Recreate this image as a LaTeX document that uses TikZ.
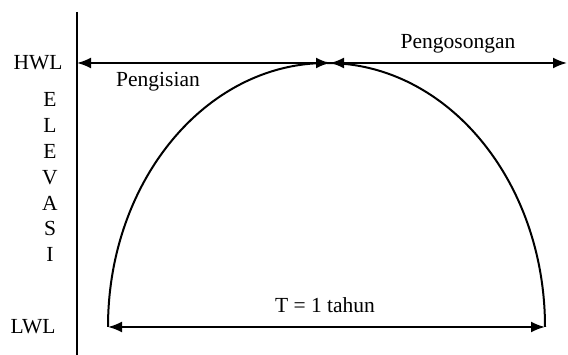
\documentclass[tikz,border=0pt]{standalone}
\usepackage{fontspec}
\setmainfont{Liberation Serif}
\usetikzlibrary{arrows.meta}
\begin{document}
\begin{tikzpicture}[
x=1pt,y=1pt,
line width=2pt,
every node/.style={font=\fontsize{21.5}{21.5}\selectfont,inner sep=0pt},
dimline/.style={{Latex[length=14pt,width=11pt]}-{Latex[length=14pt,width=11pt]}}
]
\useasboundingbox (0,0) rectangle (568,355);
% axis and levels
\coordinate (top) at (77,343);
\coordinate (bot) at (77,0);
\coordinate (hwl0) at (77,292);
\coordinate (peak) at (330,292);
\coordinate (hwl1) at (567,292);
\coordinate (lwl0) at (108,28);
\coordinate (lwl1) at (545,28);
\draw (top) -- (bot);
\node (hwl) at (38,292) {HWL};
\node (lwl) at (33,28) {LWL};
\foreach \ch [count=\i] in {E,L,E,V,A,S,I}
  \node (el\i) at (50,281-25.8*\i) {\ch};
% arrows
\draw[dimline] (hwl0) -- (peak);
\draw[dimline] (peak) -- (hwl1);
\draw[dimline] (lwl0) -- (lwl1);
\draw (lwl0) arc[start angle=180,end angle=0,x radius=218.5,y radius=264];
\node (fill) at (158,273) {Pengisian};
\node (empty) at (458,311) {Pengosongan};
\node (period) at (325,50) {T = 1 tahun};
\end{tikzpicture}
\end{document}
